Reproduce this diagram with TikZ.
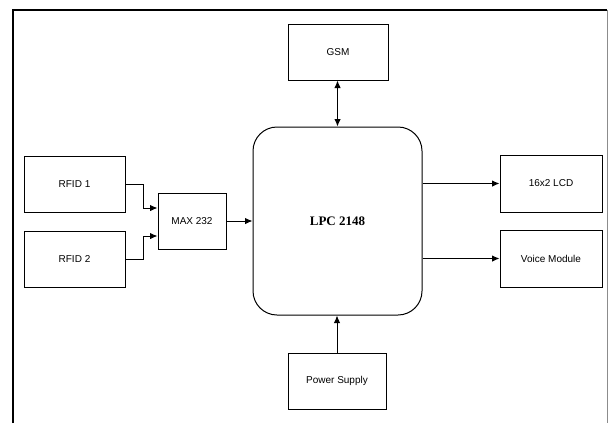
\documentclass[tikz,border=0pt]{standalone}
\usepackage{fontspec}
\setmainfont{Liberation Sans}
\newfontfamily\lpcfont{Liberation Serif}
\usetikzlibrary{arrows.meta}
\begin{document}
\begin{tikzpicture}[x=1pt,y=-1pt,
  blk/.style={draw,line width=1pt,rectangle,inner sep=0pt,align=center,font=\fontsize{10}{12}\selectfont},
  conn/.style={line width=1pt,-{Latex[length=7.5pt,width=6.5pt]}},
  biconn/.style={line width=1pt,{Latex[length=7.5pt,width=6.5pt]}-{Latex[length=7.5pt,width=6.5pt]}}]
\useasboundingbox (0,0) rectangle (609,423);
% outer frame
\draw[line width=1.4pt] (13,423) -- (13,10) -- (607,10);
\draw[line width=0.8pt,black!45] (607,10) -- (607,423);
% blocks
\node[blk,minimum width=100pt,minimum height=56pt] (gsm) at (338,52) {GSM};
\node[blk,minimum width=169pt,minimum height=188pt,rounded corners=24pt,font=\lpcfont\bfseries\fontsize{13}{15}\selectfont] (lpc) at (337.5,221) {LPC 2148};
\node[blk,minimum width=101pt,minimum height=56pt] (rfid1) at (74.5,184) {RFID 1};
\node[blk,minimum width=101pt,minimum height=56pt] (rfid2) at (74.5,259) {RFID 2};
\node[blk,minimum width=68pt,minimum height=56pt] (max) at (192,221) {MAX 232};
\node[blk,minimum width=102pt,minimum height=57pt] (lcd) at (551,183.5) {16x2 LCD};
\node[blk,minimum width=102pt,minimum height=57pt] (voice) at (551,258.5) {Voice Module};
\node[blk,minimum width=98pt,minimum height=56pt] (power) at (337,381) {Power Supply};
% connectors
\draw[biconn] (gsm.south -| lpc.north) -- (lpc.north);
\draw[conn] (rfid1.east) -- ++(18,0) |- ([yshift=13pt]max.west);
\draw[conn] (rfid2.east) -- ++(18,0) |- ([yshift=-15pt]max.west);
\draw[conn] (max.east) -- (lpc.west);
\draw[conn] (lpc.east |- lcd.west) -- (lcd.west);
\draw[conn] (lpc.east |- voice.west) -- (voice.west);
\draw[conn] (power.north) -- (power.north |- lpc.south);
\end{tikzpicture}
\end{document}
